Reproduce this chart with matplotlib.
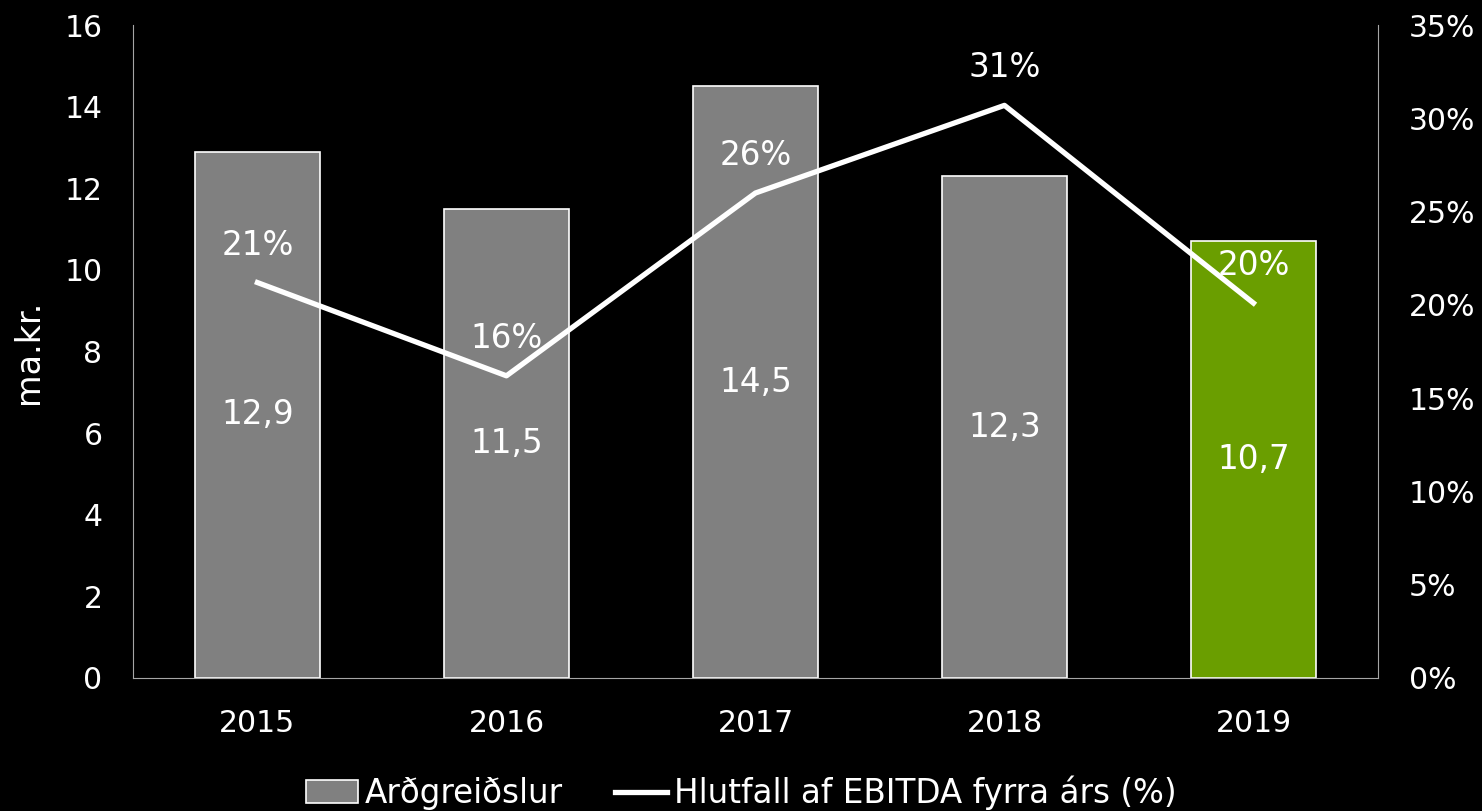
import matplotlib
matplotlib.use("Agg")
import matplotlib.pyplot as plt
import numpy as np

# ── DATA ─────────────────────────────────────────────────────
years = ['2015', '2016', '2017', '2018', '2019']
dividends = [12.9, 11.5, 14.5, 12.3, 10.7]          # ma.kr.
ebitda_ratio = [21.2, 16.2, 26.0, 30.7, 20.1]       # % of prior-year EBITDA
ratio_labels = ['21%', '16%', '26%', '31%', '20%']
bar_labels = ['12,9', '11,5', '14,5', '12,3', '10,7']

grey = '#808080'
green = '#6a9e00'
spine = '#a6a6a6'

plt.rcParams['font.family'] = ['DejaVu Sans']

fig = plt.figure(figsize=(14.82, 8.11), dpi=100, facecolor='black')
ax = fig.add_axes([0.0897, 0.164, 0.8401, 0.805])
ax.set_facecolor('black')
ax2 = ax.twinx()

x = np.arange(len(years))
colors = [grey] * 4 + [green]
bars = ax.bar(x, dividends, width=0.5, color=colors, edgecolor='white',
              linewidth=1.2, label='Arðgreiðslur', zorder=2)
ax.set_xlim(-0.5, len(years) - 0.5)
ax.set_ylim(0, 16)
ax.set_yticks(range(0, 17, 2))
ax.set_xticks(x)
ax.set_xticklabels(years)
ax.set_ylabel('ma.kr.', color='white', fontsize=24, labelpad=14)

for xi, v, lab in zip(x, dividends, bar_labels):
    ax.text(xi, v / 2, lab, ha='center', va='center', color='white', fontsize=23.5)

line, = ax2.plot(x, ebitda_ratio, color='white', linewidth=3.8,
                 label='Hlutfall af EBITDA fyrra árs (%)', zorder=3)
ax2.set_ylim(0, 35)
ax2.set_yticks(range(0, 36, 5))
ax2.set_yticklabels([f'{t}%' for t in range(0, 36, 5)])

for xi, v, lab in zip(x, ebitda_ratio, ratio_labels):
    ax2.annotate(lab, (xi, v), xytext=(0, 27), textcoords='offset points',
                 ha='center', va='center', color='white', fontsize=23.5)

for a in (ax, ax2):
    for s in a.spines.values():
        s.set_visible(False)
    a.tick_params(colors='white', labelsize=21.5, length=0)
ax.spines['left'].set_visible(True)
ax.spines['left'].set_color(spine)
ax.spines['bottom'].set_visible(True)
ax.spines['bottom'].set_color(spine)
ax2.spines['right'].set_visible(True)
ax2.spines['right'].set_color(spine)
ax.tick_params(axis='y', pad=22)
ax.tick_params(axis='x', pad=22)
ax2.tick_params(axis='y', pad=22)

fig.legend(handles=[bars, line], loc='lower center', bbox_to_anchor=(0.5, -0.035),
           ncol=2, frameon=False, fontsize=23.5, labelcolor='white',
           handlelength=1.6, handletextpad=0.2, columnspacing=1.6)

fig.savefig('out.png', dpi=100, facecolor='black')
